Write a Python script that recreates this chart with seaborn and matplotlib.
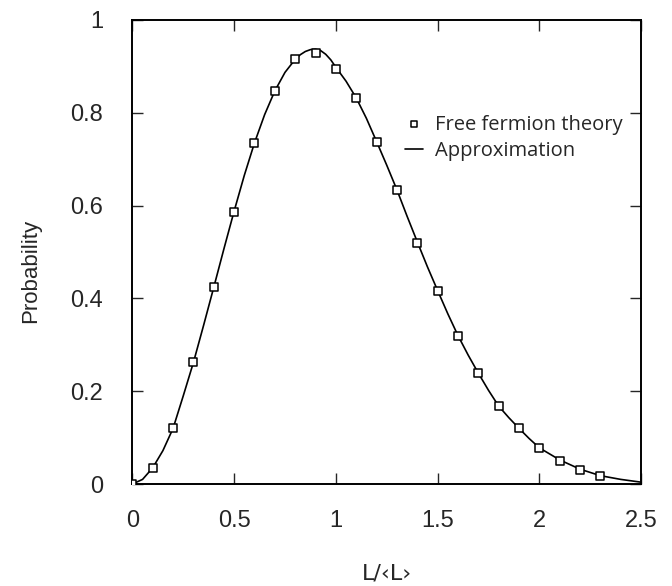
import matplotlib
matplotlib.use("Agg")
import matplotlib.pyplot as plt
import seaborn as sns
import pandas as pd

# square markers: free fermion theory
theory_x = [0.0, 0.1, 0.2, 0.3, 0.4, 0.5, 0.6, 0.7, 0.8, 0.9, 1.0, 1.1, 1.2,
            1.3, 1.4, 1.5, 1.6, 1.7, 1.8, 1.9, 2.0, 2.1, 2.2, 2.3]
theory_y = [0.0, 0.034, 0.12, 0.262, 0.424, 0.587, 0.735, 0.847, 0.916, 0.929,
            0.895, 0.832, 0.738, 0.634, 0.52, 0.417, 0.318, 0.239, 0.168, 0.12,
            0.077, 0.05, 0.03, 0.018]

# solid line: approximation
approx_x = [0.0, 0.05, 0.1, 0.15, 0.2, 0.25, 0.3, 0.35, 0.4, 0.45, 0.5, 0.55,
            0.6, 0.65, 0.7, 0.75, 0.8, 0.825, 0.85, 0.875, 0.9, 0.925, 0.95,
            0.975, 1.0, 1.05, 1.1, 1.15, 1.2, 1.25, 1.3, 1.35, 1.4, 1.45, 1.5,
            1.55, 1.6, 1.65, 1.7, 1.75, 1.8, 1.85, 1.9, 1.95, 2.0, 2.1, 2.2,
            2.3, 2.4, 2.5]
approx_y = [0.0, 0.01, 0.035, 0.072, 0.12, 0.19, 0.262, 0.342, 0.424, 0.507,
            0.588, 0.665, 0.735, 0.796, 0.847, 0.887, 0.915, 0.925, 0.932,
            0.936, 0.937, 0.934, 0.926, 0.914, 0.898, 0.868, 0.832, 0.788,
            0.738, 0.687, 0.634, 0.577, 0.522, 0.468, 0.417, 0.367, 0.32,
            0.278, 0.239, 0.202, 0.168, 0.143, 0.12, 0.098, 0.078, 0.052,
            0.032, 0.018, 0.010, 0.004]

theory = pd.DataFrame({"x": theory_x, "y": theory_y})
approx = pd.DataFrame({"x": approx_x, "y": approx_y})

sns.set_style("ticks")
plt.rcParams["font.family"] = ["Liberation Sans", "DejaVu Sans"]

fig = plt.figure(figsize=(6.72, 5.86), dpi=100)
ax = fig.add_axes([0.197, 0.174, 0.757, 0.792])

sns.lineplot(data=approx, x="x", y="y", ax=ax, color="black", linewidth=1.2,
             label="Approximation")
sns.scatterplot(data=theory, x="x", y="y", ax=ax, marker="s", s=36,
                facecolor="white", edgecolor="black", linewidth=1.1,
                label="Free fermion theory", zorder=3)

ax.set_xlim(0, 2.5)
ax.set_ylim(0, 1)
ax.set_xticks([0, 0.5, 1, 1.5, 2, 2.5])
ax.set_xticklabels(["0", "0.5", "1", "1.5", "2", "2.5"])
ax.set_yticks([0, 0.2, 0.4, 0.6, 0.8, 1.0])
ax.set_yticklabels(["0", "0.2", "0.4", "0.6", "0.8", "1"])
ax.tick_params(direction="in", top=True, right=True, length=8, width=1,
               labelsize=17)
ax.tick_params(axis="x", pad=19)
ax.tick_params(axis="y", pad=21)
for sp in ax.spines.values():
    sp.set_linewidth(1.4)
    sp.set_color("black")

ax.set_xlabel("L/‹L›", fontsize=16, family=["DejaVu Sans"])
ax.set_ylabel("Probability", fontsize=16)
ax.xaxis.set_label_coords(0.5, -0.172)
ax.yaxis.set_label_coords(-0.18, 0.46)

handles, labels = ax.get_legend_handles_labels()
order = [labels.index("Free fermion theory"), labels.index("Approximation")]
leg = ax.legend([handles[i] for i in order], [labels[i] for i in order],
                loc="upper left", bbox_to_anchor=(0.5, 0.835), frameon=False,
                prop={"family": "Open Sans", "size": 14.5}, handlelength=0.9,
                handletextpad=0.6, labelspacing=0.3, markerscale=0.75)

fig.savefig("out.png", dpi=100)
